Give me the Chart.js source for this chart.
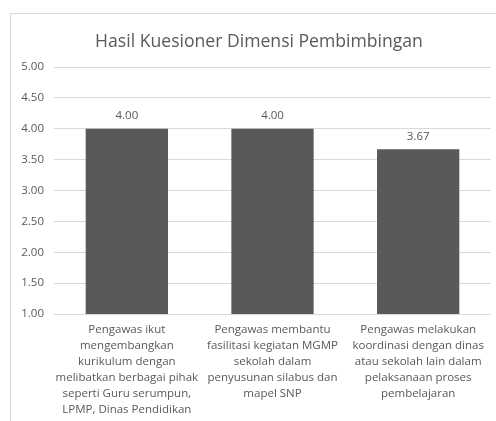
<!DOCTYPE html>
<html>
<head>
<meta charset="utf-8">
<script src="https://cdn.jsdelivr.net/npm/chart.js@4"></script>
<style>
  html, body { margin: 0; padding: 0; background: #fff; overflow: hidden; }
  #wrap { position: relative; width: 496px; height: 421px; }
  #frame { position: absolute; left: 10px; top: 13px; width: 500px; height: 420px; border: 1px solid #d9d9d9; box-sizing: border-box; }
  canvas { position: absolute; left: 0; top: 0; }
</style>
</head>
<body>
<div id="wrap">
  <div id="frame"></div>
  <canvas id="chart" width="496" height="421"></canvas>
</div>
<script>
// data
const categories = [
  ['Pengawas ikut', 'mengembangkan', 'kurikulum dengan', 'melibatkan berbagai pihak', 'seperti Guru serumpun,', 'LPMP, Dinas Pendidikan'],
  ['Pengawas membantu', 'fasilitasi kegiatan MGMP', 'sekolah dalam', 'penyusunan silabus dan', 'mapel SNP'],
  ['Pengawas melakukan', 'koordinasi dengan dinas', 'atau sekolah lain dalam', 'pelaksanaan proses', 'pembelajaran']
];
const scores = [4.00, 4.00, 3.67];
const yTicks = [1.00, 1.50, 2.00, 2.50, 3.00, 3.50, 4.00, 4.50, 5.00];

const textColor = '#595959';
const fontFamily = '"Open Sans", "Noto Sans", sans-serif';

// value labels above bars
const valueLabels = {
  id: 'valueLabels',
  afterDatasetsDraw(chart) {
    const ctx = chart.ctx;
    const meta = chart.getDatasetMeta(0);
    ctx.save();
    ctx.fillStyle = textColor;
    ctx.font = '11.5px ' + fontFamily;
    ctx.textAlign = 'center';
    ctx.textBaseline = 'bottom';
    meta.data.forEach((bar, i) => {
      ctx.fillText(scores[i].toFixed(2), bar.x, bar.y - 7);
    });
    ctx.restore();
  }
};

// title sits a little right of the canvas centre, over the plot area
const shiftTitle = {
  id: 'shiftTitle',
  afterLayout(chart) {
    const t = chart.titleBlock;
    if (t) { t.left += 8.5; t.right += 8.5; }
  }
};

new Chart(document.getElementById('chart'), {
  type: 'bar',
  data: {
    labels: categories,
    datasets: [{
      data: scores,
      backgroundColor: '#595959',
      borderWidth: 0,
      categoryPercentage: 1,
      barPercentage: 0.565
    }]
  },
  options: {
    responsive: false,
    animation: false,
    layout: { padding: { top: 14, right: 5, left: 10, bottom: 0 } },
    plugins: {
      legend: { display: false },
      tooltip: { enabled: false },
      title: {
        display: true,
        text: 'Hasil Kuesioner Dimensi Pembimbingan',
        color: textColor,
        font: { family: fontFamily, size: 17.6, weight: 'normal' },
        padding: { top: 17, bottom: 15 }
      }
    },
    scales: {
      y: {
        min: 1, max: 5,
        afterBuildTicks(scale) { scale.ticks = yTicks.map(v => ({ value: v })); },
        afterFit(scale) { scale.width = 44; },
        border: { display: false },
        grid: { color: '#d9d9d9', drawTicks: false },
        ticks: {
          color: textColor,
          padding: 10,
          font: { family: fontFamily, size: 11.5 },
          callback: v => Number(v).toFixed(2)
        }
      },
      x: {
        afterFit(scale) { scale.height = 107; },
        border: { display: false },
        grid: { display: false, drawTicks: false },
        ticks: {
          color: textColor,
          padding: 8,
          maxRotation: 0,
          autoSkip: false,
          font: { family: fontFamily, size: 11.5, lineHeight: 1.39 }
        }
      }
    }
  },
  plugins: [valueLabels, shiftTitle]
});
</script>
</body>
</html>
